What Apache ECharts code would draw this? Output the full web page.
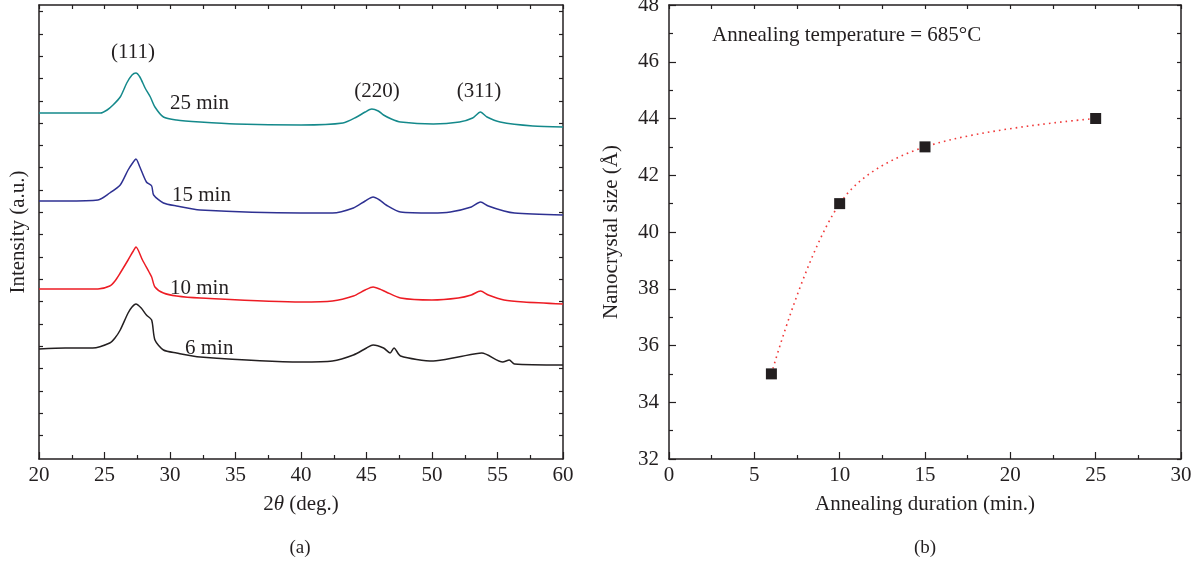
<!DOCTYPE html>
<html>
<head>
<meta charset="utf-8">
<title>XRD and nanocrystal size</title>
<script src="https://cdn.jsdelivr.net/npm/echarts@6/dist/echarts.min.js"></script>
<style>
    html, body { margin: 0; padding: 0; background: #fff; }
    #main { width: 1196px; height: 564px; }
</style>
</head>
<body>
<div id="main"></div>
<script>
//////////////////////////////////////////////////////////////////////////////////////////////////
// data
// (a) XRD patterns: [2theta (deg), intensity (a.u.)]
var xrd25 = [[20,352],[22,352],[24,352],[24.7,352],[25.2,355],[25.65,360],[26.2,368],[26.7,382],[27.1,390],[27.4,392],
    [27.7,388],[28.1,377],[28.5,368],[28.85,358],[29.5,348],[30.5,345],[32.3,343],[35,341],[40,340],[43.2,342],
    [44.25,348],[44.9,353],[45.4,356],[45.9,354],[46.3,350],[46.9,346],[47.6,343],[50.1,341],[52.1,343],[53.1,347],
    [53.7,353],[54.2,348],[55.2,343],[57.7,339],[60,338]];
var xrd15 = [[20,264],[22,264],[24.5,265],[25.4,272],[26.2,280],[26.8,295],[27.2,303],[27.4,306],[27.7,298],[28.2,283],
    [28.6,279],[28.75,270],[29.5,262],[30.5,259],[32.3,255],[40,252],[42.4,252],[44,257],[44.9,264],[45.5,268],
    [46.0,265],[46.5,260],[47.6,253],[50,252],[51.4,253],[53,258],[53.7,263],[54.3,259],[55.5,254],[56.3,252],[60,250]];
var xrd10 = [[20,176],[24.5,176],[25.4,179],[25.8,184],[26.2,192],[26.8,205],[27.2,214],[27.4,218],[27.9,205],[28.4,193],
    [28.6,188],[28.85,178],[29.5,172],[30.5,169],[32.3,167],[40,163],[42.4,164],[44,169],[44.9,175],[45.5,178],
    [46.0,176],[46.5,173],[47.6,167],[50,165],[52,167],[53,170],[53.7,174],[54.3,170],[55.5,165],[57,163],[60,161]];
var xrd6 = [[20,116],[22,117],[24.1,117],[25.4,122],[25.8,127],[26.2,135],[26.8,152],[27.1,158],[27.4,161],[27.8,157],
    [28.2,150],[28.6,145],[28.85,125],[29.5,115],[30.5,112],[32.3,108],[40,103],[42.4,104],[44,110],[45.0,117],
    [45.5,120],[46.3,117],[46.8,112],[47.1,117],[47.6,109],[50.1,104],[52,108],[53.8,112],[55.4,103],[55.9,105],
    [56.3,101],[60,100]];
var intensityTicks = [30,52,74,97,119,141,164,186,208,231,253,275,298,320,342,364,387,409,431,454];

// (b) nanocrystal size vs annealing duration
var duration = [6, 10, 15, 25];
var crystalSize = [35, 41, 43, 44];
//////////////////////////////////////////////////////////////////////////////////////////////////

var FONT = 'Liberation Serif';
var FS = 21;
var INK = '#231f20';

function boxAxis(opt){
    // axis with inward ticks, no split lines
    var ax = {
        type: 'value',
        axisLine: { show: true, onZero: false, lineStyle: { color: INK, width: 1.5 } },
        axisTick: { show: true, inside: true, length: 7, lineStyle: { color: INK, width: 1.2 } },
        axisLabel: { show: false, color: INK, fontFamily: FONT, fontSize: FS, margin: 6 },
        splitLine: { show: false },
        nameTextStyle: { color: INK, fontFamily: FONT, fontSize: FS }
    };
    for(var k in opt){
        if(typeof opt[k] == 'object' && ax[k] && !Array.isArray(opt[k]))
            ax[k] = Object.assign({}, ax[k], opt[k]);
        else
            ax[k] = opt[k];
    }
    return ax;
}

function xrdSeries(name, data, color){
    return {
        name: name,
        type: 'line',
        xAxisIndex: 0,
        yAxisIndex: 0,
        data: data,
        smooth: 0.25,
        symbol: 'none',
        lineStyle: { color: color, width: 1.5 },
        animation: false
    };
}

function label(text, x, y, align, size){
    return {
        type: 'text',
        x: x,
        y: y,
        style: {
            text: text,
            fill: INK,
            font: (size || FS) + 'px "' + FONT + '"',
            align: align || 'center',
            verticalAlign: 'middle'
        }
    };
}

var chart = echarts.init(document.getElementById('main'));
chart.setOption({
    animation: false,
    grid: [
        { left: 39, right: 633, top: 5, bottom: 105, outerBoundsMode: 'none' },
        { left: 669, right: 15, top: 5, bottom: 105, outerBoundsMode: 'none' }
    ],
    xAxis: [
        boxAxis({ gridIndex: 0, min: 20, max: 60, interval: 5, position: 'bottom',
            axisLabel: { show: true },
            minorTick: { show: true, splitNumber: 2, length: 4, lineStyle: { color: INK, width: 1.2 } },
            name: '2{i|θ} (deg.)', nameLocation: 'middle', nameGap: 35,
            nameTextStyle: { rich: { i: { fontStyle: 'italic', fontFamily: FONT, fontSize: FS, color: INK } } } }),
        boxAxis({ gridIndex: 0, min: 20, max: 60, interval: 2.5, position: 'top',
            axisTick: { length: 4 } }),
        boxAxis({ gridIndex: 1, min: 0, max: 30, interval: 5, position: 'bottom',
            axisLabel: { show: true },
            minorTick: { show: true, splitNumber: 2, length: 4, lineStyle: { color: INK, width: 1.2 } },
            name: 'Annealing duration (min.)', nameLocation: 'middle', nameGap: 35 }),
        boxAxis({ gridIndex: 1, min: 0, max: 30, interval: 2.5, position: 'top',
            axisTick: { length: 4 } })
    ],
    yAxis: [
        boxAxis({ gridIndex: 0, min: 6, max: 460, position: 'left',
            axisTick: { length: 4, customValues: intensityTicks },
            name: 'Intensity (a.u.)', nameLocation: 'middle', nameGap: 10 }),
        boxAxis({ gridIndex: 0, min: 6, max: 460, position: 'right',
            axisTick: { length: 4, customValues: intensityTicks } }),
        boxAxis({ gridIndex: 1, min: 32, max: 48, interval: 2, position: 'left',
            axisLabel: { show: true, margin: 10 },
            minorTick: { show: true, splitNumber: 2, length: 4, lineStyle: { color: INK, width: 1.2 } },
            name: 'Nanocrystal size (Å)', nameLocation: 'middle', nameGap: 47 }),
        boxAxis({ gridIndex: 1, min: 32, max: 48, interval: 1, position: 'right',
            axisTick: { length: 4 } })
    ],
    series: [
        xrdSeries('25 min', xrd25, '#14898b'),
        xrdSeries('15 min', xrd15, '#2e3192'),
        xrdSeries('10 min', xrd10, '#ed1c24'),
        xrdSeries('6 min', xrd6, INK),
        {
            name: 'size',
            type: 'line',
            xAxisIndex: 2,
            yAxisIndex: 2,
            data: duration.map(function(d, i){ return [d, crystalSize[i]]; }),
            smooth: 0.35,
            symbol: 'rect',
            symbolSize: 11,
            itemStyle: { color: INK },
            lineStyle: { color: '#f03a3a', width: 1.6, type: [1.6, 4] },
            z: 3
        }
    ],
    graphic: [
        label('(111)', 133, 52),
        label('(220)', 377, 91),
        label('(311)', 479, 91),
        label('25 min', 170, 103, 'left'),
        label('15 min', 172, 195, 'left'),
        label('10 min', 170, 288, 'left'),
        label('6 min', 185, 348, 'left'),
        label('Annealing temperature = 685°C', 712, 35, 'left'),
        label('(a)', 300, 548, 'center', 19),
        label('(b)', 925, 548, 'center', 19)
    ]
});
</script>
</body>
</html>
